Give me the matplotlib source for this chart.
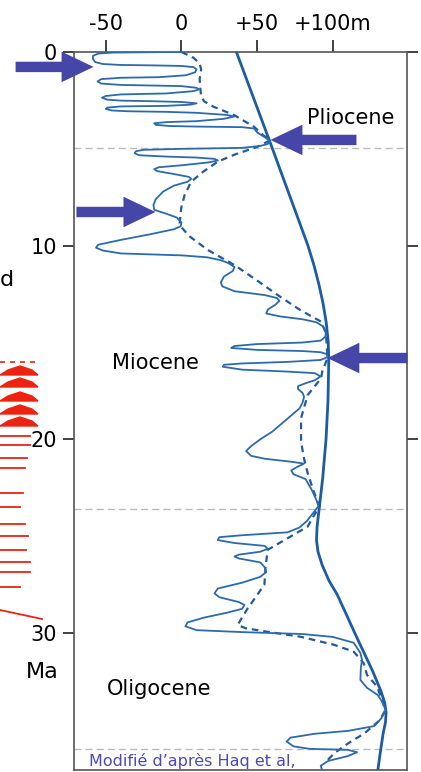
import matplotlib
matplotlib.use('Agg')
import matplotlib.pyplot as plt
from matplotlib.transforms import Affine2D
from matplotlib.patches import Polygon

# Courbe eustatique (Haq et al.) : age (Ma) / niveau marin (m)
short_age = [0.00, 0.01, 0.03, 0.08, 0.20, 0.36, 0.52, 0.62, 0.67, 0.69, 0.72, 0.78, 0.90, 1.05,
             1.20, 1.30, 1.33, 1.40, 1.52, 1.63, 1.70, 1.73, 1.76, 1.85, 1.93, 2.02,
             2.14, 2.19, 2.27, 2.36, 2.46, 2.51, 2.54, 2.58, 2.65, 2.72,
             2.78, 2.81, 2.87, 2.94, 3.02, 3.06, 3.09, 3.14, 3.25, 3.33, 3.45,
             3.57, 3.62, 3.68, 3.76, 3.82, 3.85, 3.88, 3.95, 4.15, 4.40, 4.60, 4.75, 4.85,
             4.95, 5.00, 5.05, 5.12, 5.22, 5.33, 5.40, 5.45, 5.52, 5.60, 5.70, 5.85,
             5.95, 6.05, 6.15, 6.30, 6.45, 6.55, 6.70, 6.90, 7.20, 7.60, 7.90, 8.15,
             8.35, 8.55, 8.80, 9.00, 9.15, 9.40, 9.70, 9.95, 10.10, 10.25, 10.40,
             10.50, 10.60, 10.75, 10.90, 11.10, 11.30, 11.60, 11.90, 12.10, 12.35,
             12.55, 12.70, 12.85, 13.05, 13.30, 13.50, 13.65, 13.80, 13.95, 14.15,
             14.45, 14.70, 14.90, 15.00, 15.08, 15.18, 15.28, 15.38, 15.44, 15.50,
             15.60, 15.75, 15.90, 16.00, 16.08, 16.15, 16.25, 16.40, 16.50, 16.58,
             16.75, 16.95, 17.10, 17.25, 17.40, 17.60, 17.80, 18.10, 18.40, 18.80,
             19.20, 19.60, 20.00, 20.35, 20.60, 20.85, 21.00, 21.15, 21.25, 21.40,
             21.60, 21.80, 22.05, 22.60, 23.10, 23.45, 23.80, 24.20, 24.55, 24.80,
             24.95, 25.05, 25.20, 25.35, 25.50, 25.65, 25.80, 25.95, 26.05, 26.15,
             26.35, 26.60, 26.85, 27.10, 27.40, 27.70, 27.95, 28.15, 28.40, 28.55,
             28.75, 28.95, 29.20, 29.45, 29.65, 29.85, 29.95, 30.05, 30.20, 30.50,
             31.03, 31.39, 31.80, 32.42, 32.83, 33.20, 33.60, 34.00, 34.40, 34.80,
             35.05, 35.20, 35.40, 35.60, 35.85, 35.98, 36.03, 36.15, 36.35, 36.60,
             36.85, 37.10]
short_level = [0, -20, -45, -55, -58.5, -58.5, -57, -52, -40, -20, 0, 8, 10, 9,
               3, -15, -40, -53, -55.5, -53, -40, -20, 0, 10, 11.5, 8,
               -10, -40, -50, -52.5, -49, -40, -20, 0, 10, 6,
               -10, -40, -49, -50, -46, -35, -10, 10, 30, 35, 28,
               10, -10, -18, -17, -8, 10, 40, 48, 50, 55, 58.5, 57, 52,
               40, 0, -25, -30, -31, -28, -10, 10, 22, 24, 18, 0,
               -15, -18, -16, -5, 5, 6.5, 4, -5, -12, -17, -18.5, -18,
               -10, -3, 0, -0.5, -5, -20, -40, -55, -56.5, -52, -40,
               0, 17, 26, 31, 35, 34, 28, 26, 27, 35,
               55, 63, 64.7, 62, 57, 56, 65, 80, 89, 93.3,
               95.5, 95, 92, 80, 50, 35, 32.8, 50, 80, 92,
               96, 96.5, 92, 70, 40, 28, 27.3, 40, 70, 88,
               92, 88, 82, 77, 77, 80, 81, 80, 78, 72,
               66, 60, 52, 46, 42.7, 46, 55, 72, 81, 77,
               72.5, 74, 82, 86, 89, 90.5, 87, 83, 78, 70,
               40, 25, 24, 35, 55, 57, 52, 38, 35, 38,
               52, 55, 56, 52, 40, 24, 21.8, 25, 38, 41.6,
               40, 30, 15, 4, 2.6, 10, 40, 80, 100, 113.8,
               118.2, 119.3, 118.5, 118.2, 122.6, 129.7, 133, 135, 132, 127.5,
               110, 88, 72, 69.5, 74, 85, 110, 116, 110, 97,
               92, 93]

dash_age = [0.00, 0.30, 0.60, 0.90, 1.40, 1.90, 2.30, 2.55, 2.82, 3.25, 3.85, 4.30, 4.55,
            4.90, 5.30, 5.66, 6.20, 6.70, 7.40, 8.07, 8.93, 9.50, 10.22, 11.00, 11.80,
            12.55, 13.30, 13.92, 14.52, 15.20, 15.80, 16.50, 16.85, 17.71, 18.90, 20.12,
            21.00, 21.75, 22.60, 23.47, 24.00, 24.50, 25.10, 25.70, 26.60, 27.50, 28.72,
            29.20, 29.58, 29.75, 29.93, 30.19, 30.60, 30.96, 31.56, 32.16, 32.77, 33.97,
            34.50, 35.17, 35.70, 36.20, 36.60]
dash_level = [0, 8, 12, 13, 12, 12.5, 13, 15, 21, 34.6, 47.8, 54, 58.8,
              50, 35, 24, 14, 6.4, 2, -0.2, -1.3, 5, 17.4, 35, 50,
              63.6, 78, 92.2, 95.5, 96, 96.5, 93, 92.2, 83.4, 79, 79,
              81, 83.4, 87, 91.1, 87, 83.4, 70.2, 57, 55.5, 54.8, 43.8,
              40, 37.2, 42.3, 56.6, 78.6, 100.6, 113.8, 120.4, 122.6, 129.3, 134.7,
              131, 121, 110, 101, 96]

long_age = [0.0, 4.8, 9.96, 11.0, 12.0, 13.0, 14.0, 15.0, 16.0, 18.0, 20.0, 22.0, 23.5,
            24.5, 25.2, 25.8, 26.5, 27.3, 28.0, 29.0, 30.0, 31.0, 32.0, 33.0, 33.6,
            34.1, 34.6, 35.2, 36.2, 37.1]
long_level = [36.3, 59.2, 83.4, 87.5, 90.8, 93.6, 95.7, 97.0, 97.3, 96.8, 95.5, 93.3, 91.1,
              89.6, 89.2, 90.2, 93.0, 97.5, 102.8, 108.7, 114.5, 120.5, 126.5, 131.8, 134.3,
              135.2, 134.8, 133.2, 131.3, 129.7]

boundaries = [4.97, 23.6, 36.0]
epochs = ['Pliocene', 'Miocene', 'Oligocene']
epoch_pos = [(111.6, 3.4), (-17.2, 16.05), (-14.5, 32.9)]

# fleches : (pointe, queue) en (m, Ma)
arrows = [((-58.1, 0.77), (-109.6, 0.77)),
          ((58.8, 4.54), (115.6, 4.54)),
          ((-17.2, 8.26), (-69.4, 8.26)),
          ((96.4, 15.8), (149.3, 15.8))]

xticks = [-50, 0, 50, 100]
xlabels = ['-50', '0', '+50', '+100m']
yticks = [0, 10, 20, 30]

W, H = 421, 772
fig = plt.figure(figsize=(W / 100, H / 100), dpi=100)
axe = fig.add_axes([74 / W, 1 - 770 / H, 333 / W, 718 / H])
px = Affine2D().scale(1 / W, -1 / H).translate(0, 1) + fig.transFigure

blue = '#2b6aac'
for b in boundaries:
    axe.axhline(b, color='#bbbbbb', lw=1.0, ls=(0, (5, 3)), zorder=1)

axe.plot(long_level, long_age, color='#1c5ca3', lw=2.0, zorder=3, solid_joinstyle='round')
axe.plot(short_level, short_age, color=blue, lw=1.3, zorder=4, solid_joinstyle='round')
axe.plot(dash_level, dash_age, color='#25599c', lw=1.6, ls=(0, (3, 2.2)), zorder=3)

axe.set_xlim(-71, 149)
axe.set_ylim(37.07, 0)
axe.xaxis.tick_top()
axe.set_xticks(xticks)
axe.set_xticklabels(xlabels, fontsize=15)
axe.set_yticks(yticks)
axe.set_yticklabels([str(t) for t in yticks], fontsize=15)
axe.tick_params(axis='x', direction='out', length=9, width=1.3, pad=4, colors='#333333', labelcolor='black')
axe.tick_params(axis='y', direction='out', length=8, width=1.3, pad=4, colors='#333333',
                labelcolor='black', right=True)
for s in axe.spines.values():
    s.set_color('#555555')
    s.set_linewidth(1.2)

for name, (xm, ya) in zip(epochs, epoch_pos):
    axe.text(xm, ya, name, fontsize=15, ha='center', va='center', color='black', zorder=6)

axe.text(-61.4, 36.6, 'Modifié d\u2019après Haq et al,', fontsize=11.5, color='#4a4ab8',
         ha='left', va='center', zorder=6)

for tip, tail in arrows:
    axe.annotate('', xy=tip, xytext=tail, annotation_clip=False,
                 arrowprops=dict(arrowstyle='simple,head_length=2.3,head_width=2.2,tail_width=0.75',
                                 mutation_scale=10, color='#4646a8', shrinkA=0, shrinkB=0, lw=0),
                 zorder=7)

fig.text(42, 672, 'Ma', fontsize=16, ha='center', va='center', transform=px)
fig.text(7, 280, 'd', fontsize=16, ha='center', va='center', transform=px)

# restes de la figure voisine (en rouge, a gauche)
red = '#ee2211'
humps = [372, 384, 398, 411, 423]
for yb in humps:
    fig.add_artist(Polygon([(0, yb + 3), (8, yb - 2), (20, yb - 6), (32, yb - 2), (38, yb + 3)],
                           closed=True, color=red, transform=px))
fig.add_artist(plt.Line2D([0, 38], [362, 362], color=red, lw=1.2, ls=(0, (3, 3)), transform=px))
red_lines = [(436, 30), (445, 30), (458, 27), (468, 25), (493, 23), (507, 20), (524, 25),
             (536, 28), (550, 26), (562, 30), (572, 30), (587, 20)]
for yl, xe in red_lines:
    fig.add_artist(plt.Line2D([0, xe], [yl, yl], color=red, lw=1.3, transform=px))
fig.add_artist(plt.Line2D([0, 42], [610, 619], color=red, lw=1.3, transform=px))

fig.savefig('out.png', dpi=100)
plt.close()
